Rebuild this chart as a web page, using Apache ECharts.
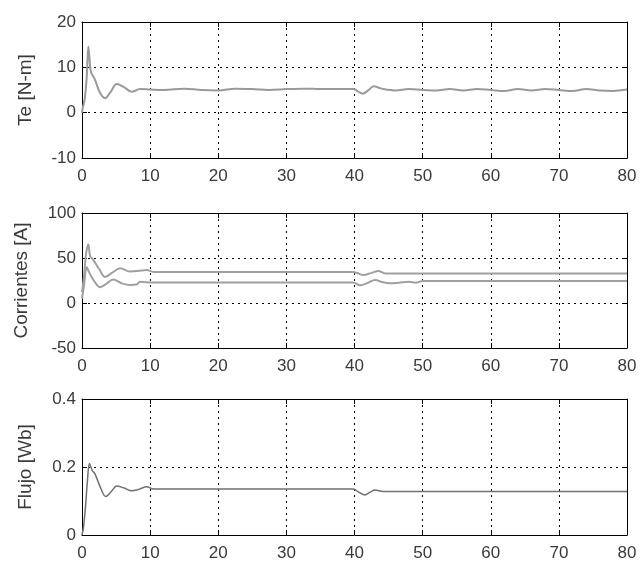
<!DOCTYPE html>
<html>
<head>
<meta charset="utf-8">
<script src="https://cdn.jsdelivr.net/npm/echarts@6/dist/echarts.min.js"></script>
<style>html,body{margin:0;padding:0;background:#fff}#c{width:640px;height:562px}</style>
</head>
<body>
<div id="c"></div>
<script>
// ---- Data ----
var xTicks = [0, 10, 20, 30, 40, 50, 60, 70, 80];

var teTime   = [0, 0.1, 0.4, 0.7, 0.93, 1.1, 1.3, 1.9, 2.6, 3.4, 4.2, 5.1, 6.2, 7.3, 8.5, 10, 12, 15, 17.5, 20, 22.5, 25, 27.5, 30, 32.5, 35, 37.5, 39.8, 40.5, 41.2, 42, 42.8, 44, 46, 48, 50, 52, 54, 56, 58, 60, 62, 64, 66, 68, 70, 72, 74, 76, 78, 80];
var teValues = [0, 1, 3, 8, 14.6, 12, 9.1, 7.3, 4.5, 3.2, 4.6, 6.3, 5.6, 4.6, 5.2, 5.1, 5.0, 5.3, 5.0, 4.9, 5.3, 5.2, 5.0, 5.2, 5.3, 5.2, 5.2, 5.2, 4.7, 4.2, 4.9, 5.8, 5.3, 4.9, 5.2, 5.0, 4.9, 5.2, 4.9, 5.2, 5.0, 4.8, 5.2, 4.9, 5.2, 5.0, 4.8, 5.2, 4.9, 4.8, 5.1];

var iUpperTime   = [0, 0.3, 0.6, 0.93, 1.2, 1.66, 2.5, 3.4, 4.5, 5.6, 7.05, 8.2, 9.5, 10.5, 39.8, 40.5, 41.3, 42.5, 43.5, 44.5, 80];
var iUpperValues = [12, 30, 55, 65, 52, 48, 38, 29, 34, 38.5, 35, 35.5, 36.7, 34.5, 34.5, 33, 31, 33.5, 35.5, 32.8, 32.8];

var iLowerTime   = [0, 0.3, 0.7, 1.0, 1.4, 2.0, 2.6, 3.5, 4.6, 5.8, 7.0, 8.0, 8.5, 9.5, 10.5, 39.8, 40.8, 42, 43, 44.2, 45.2, 46.5, 48, 49, 50, 80];
var iLowerValues = [5, 20, 40, 35, 29, 22, 17.5, 21, 26, 22, 20, 20.5, 23.5, 23, 22.8, 22.8, 19.7, 22.5, 25.6, 23, 21.9, 22.5, 23.5, 22.5, 24.4, 24.4];

var fluxTime   = [0, 0.2, 0.5, 0.8, 1.1, 1.5, 1.9, 2.7, 3.5, 4.3, 5.1, 6.2, 7.3, 8.4, 9.5, 10.5, 39.8, 40.7, 41.5, 42.3, 43, 44.2, 80];
var fluxValues = [0, 0.02, 0.08, 0.16, 0.21, 0.19, 0.18, 0.14, 0.113, 0.128, 0.144, 0.138, 0.130, 0.135, 0.142, 0.135, 0.135, 0.125, 0.118, 0.126, 0.132, 0.128, 0.128];

var yNames = ['Te [N-m]', 'Corrientes [A]', 'Flujo [Wb]'];
var yMins = [-10, -50, 0];
var yMaxs = [20, 100, 0.4];
var yIntervals = [10, 50, 0.2];

function pairs(t, v) { return t.map(function (x, i) { return [x, v[i]]; }); }

// ---- Layout / style ----
var FONT = 'Liberation Sans, Arial, sans-serif';
var TXT = '#3a3a3a';
var TICK_FS = 17, NAME_FS = 19;
var grids = [
  { left: 82, right: 13, top: 22, height: 136 },
  { left: 82, right: 13, top: 213, height: 135 },
  { left: 82, right: 13, top: 399, height: 138 }
];
var nameGaps = [47, 51, 47];
var gridLine = { color: '#000', width: 1, type: [2, 4] };
var xAxes = [], yAxes = [];
grids.forEach(function (g, i) {
  xAxes.push({
    type: 'value', gridIndex: i, min: 0, max: 80, interval: 10, position: 'bottom',
    axisLine: { show: true, onZero: false, lineStyle: { color: '#000', width: 1 } },
    axisTick: { show: true, inside: true, length: 5, lineStyle: { color: '#000' } },
    axisLabel: { color: TXT, fontFamily: FONT, fontSize: TICK_FS, margin: 10,
      formatter: function (v) { return xTicks.indexOf(v) >= 0 ? String(v) : ''; } },
    splitLine: { show: true, lineStyle: gridLine }
  });
  xAxes.push({
    type: 'value', gridIndex: i, min: 0, max: 80, interval: 10, position: 'top',
    axisLine: { show: true, onZero: false, lineStyle: { color: '#000', width: 1 } },
    axisTick: { show: true, inside: true, length: 5, lineStyle: { color: '#000' } },
    axisLabel: { show: false }, splitLine: { show: false }
  });
  yAxes.push({
    type: 'value', gridIndex: i, min: yMins[i], max: yMaxs[i], interval: yIntervals[i], position: 'left',
    name: yNames[i], nameLocation: 'middle', nameGap: nameGaps[i], nameRotate: 90,
    nameTextStyle: { color: TXT, fontFamily: FONT, fontSize: NAME_FS },
    axisLine: { show: true, onZero: false, lineStyle: { color: '#000', width: 1 } },
    axisTick: { show: true, inside: true, length: 5, lineStyle: { color: '#000' } },
    axisLabel: { color: TXT, fontFamily: FONT, fontSize: TICK_FS, margin: 6,
      formatter: function (v) { return i === 2 ? (v === 0 ? '0' : v.toFixed(1)) : String(v); } },
    splitLine: { show: true, lineStyle: gridLine }
  });
  yAxes.push({
    type: 'value', gridIndex: i, min: yMins[i], max: yMaxs[i], interval: yIntervals[i], position: 'right',
    axisLine: { show: true, onZero: false, lineStyle: { color: '#000', width: 1 } },
    axisTick: { show: true, inside: true, length: 5, lineStyle: { color: '#000' } },
    axisLabel: { show: false }, splitLine: { show: false }
  });
});

function lineSeries(gi, data, color, width) {
  return {
    type: 'line', xAxisIndex: gi * 2, yAxisIndex: gi * 2, data: data,
    showSymbol: false, symbol: 'none', smooth: 0.35, animation: false,
    lineStyle: { color: color, width: width }
  };
}

var chart = echarts.init(document.getElementById('c'), null, { renderer: 'canvas' });
chart.setOption({
  animation: false,
  backgroundColor: '#fff',
  grid: grids,
  xAxis: xAxes,
  yAxis: yAxes,
  series: [
    lineSeries(0, pairs(teTime, teValues), '#9a9a9a', 2),
    lineSeries(1, pairs(iUpperTime, iUpperValues), '#a0a0a0', 2),
    lineSeries(1, pairs(iLowerTime, iLowerValues), '#a0a0a0', 2),
    lineSeries(2, pairs(fluxTime, fluxValues), '#707070', 1.5)
  ]
});
</script>
</body>
</html>
